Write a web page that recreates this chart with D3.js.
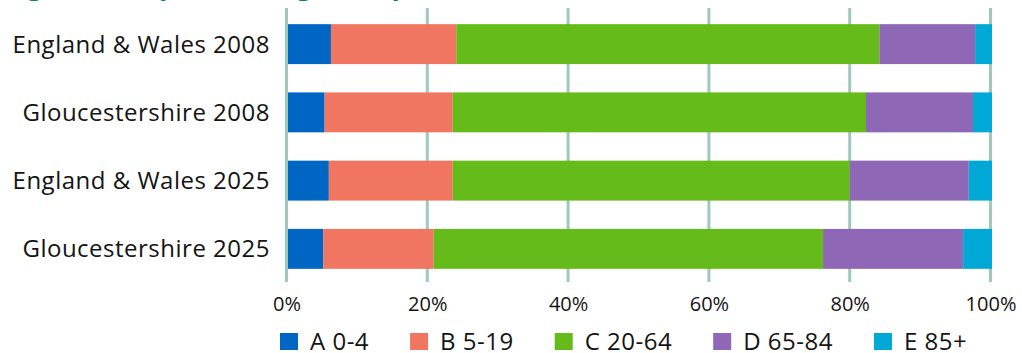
<!DOCTYPE html>
<html>
<head>
<meta charset="utf-8">
<script src="https://cdn.jsdelivr.net/npm/d3@7"></script>
<style>
  html, body { margin: 0; padding: 0; background: #fff; }
  svg { display: block; }
</style>
</head>
<body>
<svg id="chart" width="1022" height="353"></svg>
<script>
const titleText = "Figure 1: Population age comparison";
const categories = ["England & Wales 2008", "Gloucestershire 2008", "England & Wales 2025", "Gloucestershire 2025"];
const seriesNames = ["A 0-4", "B 5-19", "C 20-64", "D 65-84", "E 85+"];
const seriesA = [6.1, 5.2, 5.8, 5.0];
const seriesB = [17.8, 18.2, 17.6, 15.7];
const seriesC = [60.1, 58.7, 56.4, 55.3];
const seriesD = [13.6, 15.2, 16.9, 19.9];
const seriesE = [2.4, 2.7, 3.3, 4.1];
const tickValues = [0, 20, 40, 60, 80, 100];
const tickLabels = ["0%", "20%", "40%", "60%", "80%", "100%"];

const colors = ["#0066c4", "#f07662", "#64bb19", "#8e67b6", "#00a8d6"];
const gridColor = "#9fc9bd";
const textColor = "#141414";
const fontFamily = "'Open Sans', 'Noto Sans', sans-serif";

const allSeries = [seriesA, seriesB, seriesC, seriesD, seriesE];
const rows = categories.map((c, i) => {
  const r = { category: c };
  seriesNames.forEach((s, j) => { r[s] = allSeries[j][i]; });
  return r;
});

const svg = d3.select("#chart");

const x = d3.scaleLinear().domain([0, 100]).range([288, 992]);
const y = d3.scaleBand().domain(categories).range([10, 283]).paddingInner(0.415).paddingOuter(0.2075);

// title, cut off by the top edge as in the reference (only descenders visible)
svg.append("text")
  .attr("x", 4).attr("y", -5.5)
  .attr("font-family", fontFamily).attr("font-size", 27).attr("font-weight", 700)
  .attr("fill", "#00876c")
  .text(titleText);

// gridlines
svg.append("g").selectAll("line").data(tickValues).join("line")
  .attr("x1", d => x(d) - 1.5).attr("x2", d => x(d) - 1.5)
  .attr("y1", 8).attr("y2", 282)
  .attr("stroke", gridColor).attr("stroke-width", 3);

// bars
const stack = d3.stack().keys(seriesNames);
const stacked = stack(rows);
svg.append("g").selectAll("g").data(stacked).join("g")
  .attr("fill", (d, i) => colors[i])
  .selectAll("rect").data(d => d).join("rect")
  .attr("x", d => x(d[0]))
  .attr("width", d => x(d[1]) - x(d[0]))
  .attr("y", d => y(d.data.category))
  .attr("height", y.bandwidth());

// y axis labels
const yAxis = d3.axisLeft(y).tickSize(0).tickPadding(18);
const yg = svg.append("g").attr("transform", `translate(${x(0)},0)`).call(yAxis);
yg.select(".domain").remove();
yg.selectAll("text")
  .attr("font-family", fontFamily).attr("font-size", 24)
  .attr("letter-spacing", "0.5px")
  .attr("fill", textColor).attr("dy", "0.35em");

// x axis labels
const xAxis = d3.axisBottom(x).tickValues(tickValues)
  .tickFormat((d, i) => tickLabels[i]).tickSize(0).tickPadding(0);
const xg = svg.append("g").attr("transform", `translate(-1.5,${311})`).call(xAxis);
xg.select(".domain").remove();
xg.selectAll("text")
  .attr("font-family", fontFamily).attr("font-size", 20)
  .attr("fill", textColor).attr("dy", 0).attr("y", 0);

// legend
const legend = svg.append("g");
let lx = 280;
seriesNames.forEach((name, i) => {
  const g = legend.append("g").attr("transform", `translate(${lx},0)`);
  g.append("rect").attr("x", 0).attr("y", 333).attr("width", 18).attr("height", 17).attr("fill", colors[i]);
  const t = g.append("text").attr("x", 30).attr("y", 349.5)
    .attr("font-family", fontFamily).attr("font-size", 24)
    .attr("letter-spacing", "0.5px")
    .attr("fill", textColor).text(name);
  const w = t.node().getComputedTextLength();
  lx += 30 + w + 41;
});
</script>
</body>
</html>
